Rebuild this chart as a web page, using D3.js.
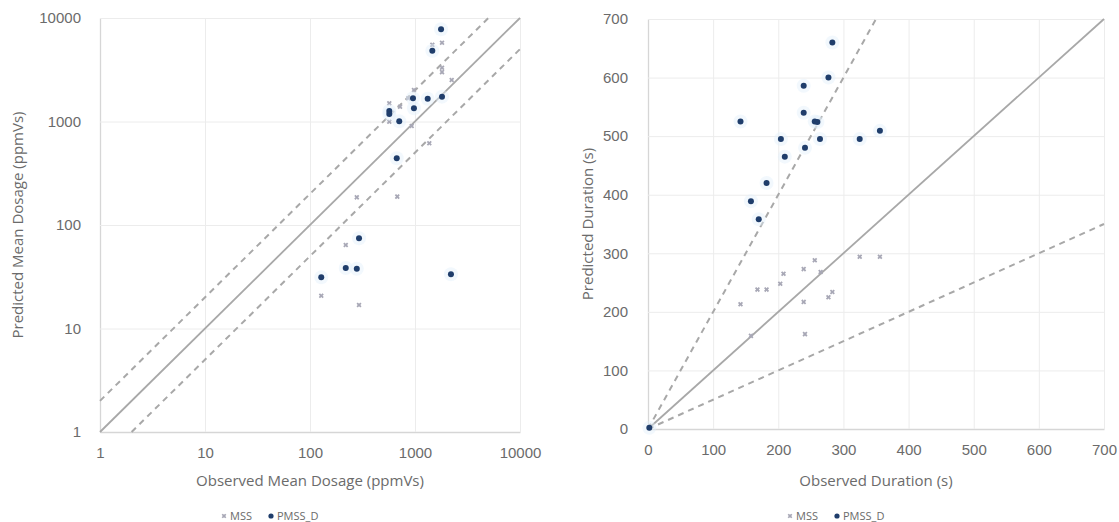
<!DOCTYPE html>
<html>
<head>
<meta charset="utf-8">
<script src="https://cdn.jsdelivr.net/npm/d3@7"></script>
<style>
  body { margin: 0; background: #fff; }
  svg { font-family: "Open Sans", "Liberation Sans", sans-serif; }
</style>
</head>
<body>
<svg id="chart" width="1119" height="522"></svg>
<script>
//------------------- données -------------------

// dosage moyen (ppmVs), gauche
var dosageMSS_obs  = [1808, 1462, 1808, 1808, 2236, 977, 863, 720, 569, 569, 930, 1368, 279, 678, 219, 128, 293];
var dosageMSS_pred = [5770, 5500, 3300, 3000, 2520, 2014, 1675, 1390, 1500, 995, 905, 616, 185, 188, 64, 20.7, 16.9];

var dosagePMSS_obs  = [1770, 1462, 957, 1321, 1808, 977, 569, 569, 708, 670, 293, 219, 279, 128, 2200];
var dosagePMSS_pred = [7780, 4830, 1675, 1660, 1738, 1342, 1262, 1182, 1004, 441, 74.4, 38.4, 37.8, 31.2, 33.4];

// durée (s), droite
var dureeMSS_obs  = [256, 325, 356, 239, 208, 265, 203, 168, 182, 283, 277, 239, 142, 158, 241];
var dureeMSS_pred = [288, 294, 294, 273, 265, 268, 248, 238, 238, 234, 225, 217, 213, 159, 162];

var dureePMSS_obs  = [283, 277, 239, 142, 239, 256, 260, 204, 264, 325, 356, 241, 210, 182, 158, 170, 2];
var dureePMSS_pred = [660, 600, 586, 525, 540, 525, 524, 495, 495, 495, 509, 480, 465, 420, 389, 358, 2];

var ticksDosage = [1, 10, 100, 1000, 10000];
var ticksDuree  = [0, 100, 200, 300, 400, 500, 600, 700];

// droites 1:1 et facteur 2
var refDosage  = [[1, 1], [10000, 10000]];
var haut2Dosage = [[1, 2], [5000, 10000]];
var bas2Dosage  = [[2, 1], [10000, 5000]];
var refDuree   = [[0, 0], [700, 700]];
var haut2Duree  = [[0, 0], [350, 700]];
var bas2Duree   = [[0, 0], [700, 350]];

var series = ["MSS", "PMSS_D"];

//------------------- styles -------------------
var couleurTexte = "#6b6b6b";
var couleurGrille = "#ececec";
var couleurAxe = "#d6d6d6";
var couleurLigne = "#a8a8a8";
var couleurMSS = "#a8a8b6";
var couleurPMSS = "#1f3d6b";

var svg = d3.select("#chart");

function zip(a, b) {
    return a.map(function(v, i) { return [v, b[i]]; });
}

function dessinerGraphe(opts) {
    var g = svg.append("g");
    var x = opts.x, y = opts.y;
    var x0 = x.range()[0], x1 = x.range()[1];
    var y0 = y.range()[0], y1 = y.range()[1];

    // grille + axe x
    var ax = g.append("g")
        .attr("transform", "translate(0," + y0 + ")")
        .call(d3.axisBottom(x).tickValues(opts.xTicks).tickFormat(d3.format("d"))
            .tickSizeInner(-(y0 - y1)).tickSizeOuter(0).tickPadding(15));
    var ay = g.append("g")
        .attr("transform", "translate(" + x0 + ",0)")
        .call(d3.axisLeft(y).tickValues(opts.yTicks).tickFormat(d3.format("d"))
            .tickSizeInner(-(x1 - x0)).tickSizeOuter(0).tickPadding(opts.padY));

    [ax, ay].forEach(function(a) {
        a.select(".domain").attr("stroke", couleurAxe).attr("stroke-width", 1.3);
        a.selectAll(".tick line").attr("stroke", couleurGrille).attr("stroke-width", 1);
        a.selectAll(".tick text").attr("fill", couleurTexte).style("font-size", "15px");
    });
    ay.selectAll(".tick").filter(function(d) { return d === opts.yTicks[0]; }).select("line").remove();
    ax.selectAll(".tick").filter(function(d) { return d === opts.xTicks[0]; }).select("line").remove();

    // droites de référence
    var ligne = d3.line().x(function(d) { return x(d[0]); }).y(function(d) { return y(d[1]); });
    g.append("path").attr("d", ligne(opts.ref))
        .attr("stroke", couleurLigne).attr("stroke-width", 1.8).attr("fill", "none");
    [opts.haut, opts.bas].forEach(function(l) {
        g.append("path").attr("d", ligne(l))
            .attr("stroke", couleurLigne).attr("stroke-width", 2)
            .attr("stroke-dasharray", "6,5").attr("fill", "none");
    });

    // MSS : petites croix
    g.selectAll(".mss").data(opts.mss).enter().append("path")
        .attr("class", "mss")
        .attr("transform", function(d) { return "translate(" + x(d[0]) + "," + y(d[1]) + ") rotate(45)"; })
        .attr("d", d3.symbol().type(d3.symbolCross).size(16))
        .attr("fill", couleurMSS);

    // PMSS_D : points bleu foncé avec léger halo
    g.selectAll(".halo").data(opts.pmss).enter().append("circle")
        .attr("cx", function(d) { return x(d[0]); })
        .attr("cy", function(d) { return y(d[1]); })
        .attr("r", 7).attr("fill", "#e3f0fb").attr("opacity", 0.45);
    g.selectAll(".pmss").data(opts.pmss).enter().append("circle")
        .attr("class", "pmss")
        .attr("cx", function(d) { return x(d[0]); })
        .attr("cy", function(d) { return y(d[1]); })
        .attr("r", 3).attr("fill", couleurPMSS);

    // titres
    g.append("text").text(opts.titreX)
        .attr("x", (x0 + x1) / 2).attr("y", 486)
        .attr("text-anchor", "middle").attr("fill", couleurTexte).style("font-size", "15px");
    g.append("text").text(opts.titreY)
        .attr("transform", "translate(" + opts.xTitreY + "," + (y0 + y1) / 2 + ") rotate(-90)")
        .attr("text-anchor", "middle").attr("dy", "0.35em")
        .attr("fill", couleurTexte).style("font-size", "15px");

    // légende
    var leg = g.append("g").attr("transform", "translate(" + opts.xLegende + ",516)");
    leg.append("path").attr("transform", "translate(0,0) rotate(45)")
        .attr("d", d3.symbol().type(d3.symbolCross).size(14)).attr("fill", couleurMSS);
    leg.append("text").text(series[0]).attr("x", 6).attr("dy", "0.35em")
        .attr("fill", couleurTexte).style("font-size", "11px");
    leg.append("circle").attr("cx", 47).attr("r", 2.6).attr("fill", couleurPMSS);
    leg.append("text").text(series[1]).attr("x", 53).attr("dy", "0.35em")
        .attr("fill", couleurTexte).style("font-size", "11px");
}

dessinerGraphe({
    x: d3.scaleLog().domain([1, 10000]).range([100, 520]),
    y: d3.scaleLog().domain([1, 10000]).range([432, 18]),
    xTicks: ticksDosage, yTicks: ticksDosage, padY: 19,
    ref: refDosage, haut: haut2Dosage, bas: bas2Dosage,
    mss: zip(dosageMSS_obs, dosageMSS_pred),
    pmss: zip(dosagePMSS_obs, dosagePMSS_pred),
    titreX: "Observed Mean Dosage (ppmVs)",
    titreY: "Predicted Mean Dosage (ppmVs)",
    xTitreY: 18, xLegende: 224
});

dessinerGraphe({
    x: d3.scaleLinear().domain([0, 700]).range([648, 1104]),
    y: d3.scaleLinear().domain([0, 700]).range([429, 19]),
    xTicks: ticksDuree, yTicks: ticksDuree, padY: 20,
    ref: refDuree, haut: haut2Duree, bas: bas2Duree,
    mss: zip(dureeMSS_obs, dureeMSS_pred),
    pmss: zip(dureePMSS_obs, dureePMSS_pred),
    titreX: "Observed Duration (s)",
    titreY: "Predicted Duration (s)",
    xTitreY: 588, xLegende: 790
});
</script>
</body>
</html>
